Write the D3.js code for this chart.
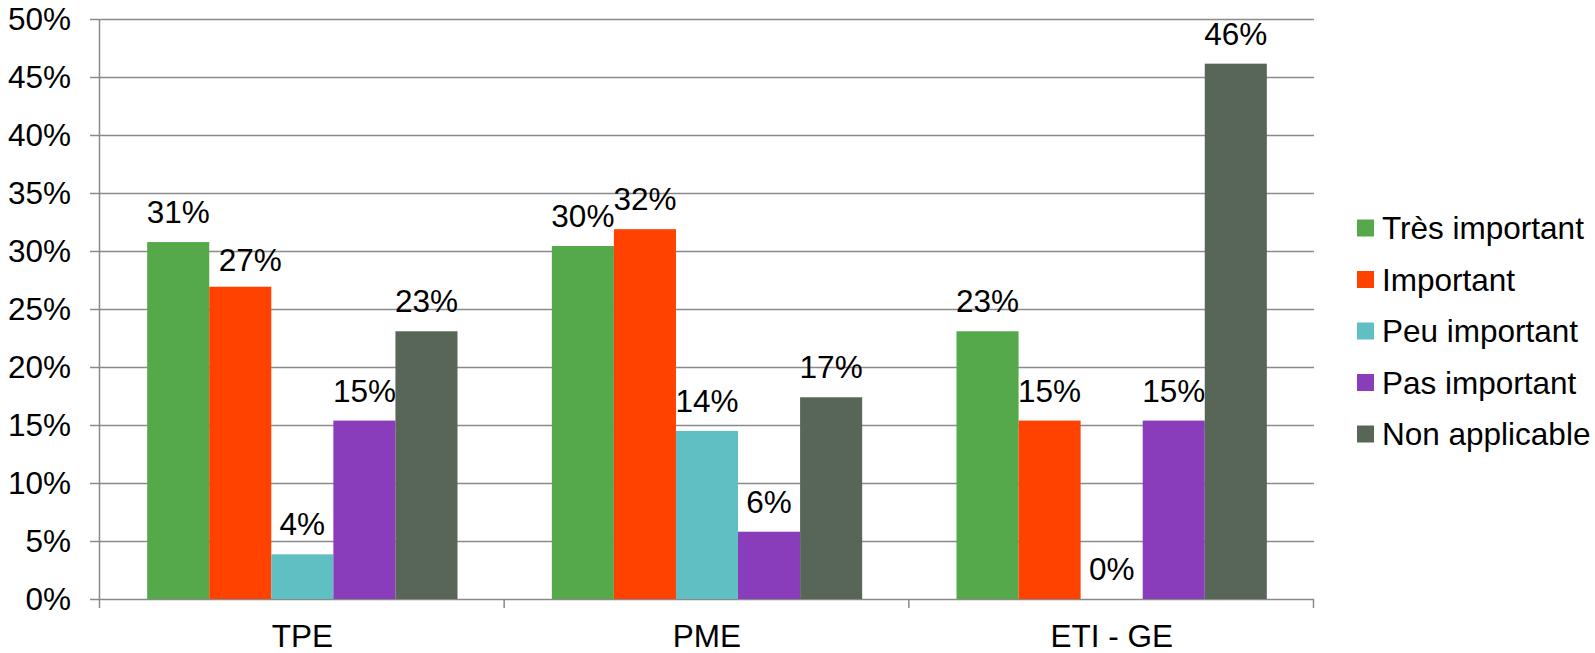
<!DOCTYPE html>
<html>
<head>
<meta charset="utf-8">
<script src="https://cdn.jsdelivr.net/npm/d3@7"></script>
<style>
  body { margin: 0; background: #fff; }
  text { font-family: "Liberation Sans", Arial, sans-serif; fill: #000; }
</style>
</head>
<body>
<svg width="1595" height="653"></svg>
<script>
// data, shares of respondents per company size
var categories = ["TPE", "PME", "ETI - GE"];
var keys = ["Très important", "Important", "Peu important", "Pas important", "Non applicable"];
var tresImportant = [0.3077, 0.3043, 0.2308];
var important     = [0.2692, 0.3188, 0.1538];
var peuImportant  = [0.0385, 0.1449, 0.0];
var pasImportant  = [0.1538, 0.0580, 0.1538];
var nonApplicable = [0.2308, 0.1739, 0.4615];
var yTicks = [0, 0.05, 0.10, 0.15, 0.20, 0.25, 0.30, 0.35, 0.40, 0.45, 0.50];

var colors = ["#55a94a", "#ff4200", "#5fbfc3", "#8a3dba", "#586657"];
var series = [tresImportant, important, peuImportant, pasImportant, nonApplicable];

var svg = d3.select("svg"),
    margin = {top: 19, right: 281, bottom: 54, left: 100},
    width = +svg.attr("width") - margin.left - margin.right,
    height = +svg.attr("height") - margin.top - margin.bottom,
    g = svg.append("g").attr("transform", "translate(" + margin.left + "," + margin.top + ")");

var fontSize = 31.5;

var x0 = d3.scaleBand().domain(categories).range([0, width]).padding(0);
var x1 = d3.scaleBand().domain(keys).range([0, x0.bandwidth()]).paddingInner(0).paddingOuter(0.76);
var y = d3.scaleLinear().domain([0, 0.5]).range([height, 0]);
var z = d3.scaleOrdinal().domain(keys).range(colors);
var fmt = d3.format(".0%");

// gridlines
g.append("g")
  .selectAll("line")
  .data(yTicks)
  .enter().append("line")
    .attr("x1", -10)
    .attr("x2", width)
    .attr("y1", function(d) { return Math.round(y(d)) + 0.5; })
    .attr("y2", function(d) { return Math.round(y(d)) + 0.5; })
    .attr("stroke", "#8a8a8a")
    .attr("stroke-width", 1.5);

// y labels
g.append("g")
  .selectAll("text")
  .data(yTicks)
  .enter().append("text")
    .attr("x", -29)
    .attr("y", function(d) { return y(d); })
    .attr("dy", "0.36em")
    .attr("text-anchor", "end")
    .style("font-size", fontSize + "px")
    .text(fmt);

// y axis line
g.append("line")
  .attr("x1", -0.5).attr("x2", -0.5)
  .attr("y1", 0).attr("y2", height + 9)
  .attr("stroke", "#8a8a8a")
  .attr("stroke-width", 1.5);

// x axis separator ticks
var bounds = categories.map(function(c) { return x0(c) + x0.bandwidth(); });
g.append("g")
  .selectAll("line")
  .data(bounds)
  .enter().append("line")
    .attr("x1", function(d) { return d - 0.5; })
    .attr("x2", function(d) { return d - 0.5; })
    .attr("y1", height)
    .attr("y2", height + 9)
    .attr("stroke", "#8a8a8a")
    .attr("stroke-width", 1.5);

// x labels
g.append("g")
  .selectAll("text")
  .data(categories)
  .enter().append("text")
    .attr("x", function(d) { return x0(d) + x0.bandwidth() / 2; })
    .attr("y", height + 48)
    .attr("text-anchor", "middle")
    .style("font-size", fontSize + "px")
    .text(function(d) { return d; });

// bars
var groups = g.append("g")
  .selectAll("g")
  .data(categories)
  .enter().append("g")
    .attr("transform", function(d) { return "translate(" + x0(d) + ",0)"; });

var cells = groups.selectAll("g")
  .data(function(c, ci) { return keys.map(function(k, ki) { return {cat: c, key: k, value: series[ki][ci]}; }); })
  .enter().append("g");

cells.append("rect")
  .attr("x", function(d) { return x1(d.key); })
  .attr("y", function(d) { return y(d.value); })
  .attr("width", x1.bandwidth())
  .attr("height", function(d) { return height - y(d.value); })
  .attr("fill", function(d) { return z(d.key); });

// value labels; the TPE "Important" label sits a little to the right as in the original
cells.append("text")
  .attr("x", function(d) {
    var nudge = (d.cat === "TPE" && d.key === "Important") ? 10 : 0;
    return x1(d.key) + x1.bandwidth() / 2 + nudge;
  })
  .attr("y", function(d) {
    var nudge = (d.cat === "TPE" && d.key === "Important") ? 3 : 0;
    return y(d.value) - 19 + nudge;
  })
  .attr("text-anchor", "middle")
  .style("font-size", fontSize + "px")
  .text(function(d) { return fmt(d.value); });

// legend
var legend = svg.append("g")
  .selectAll("g")
  .data(keys)
  .enter().append("g")
    .attr("transform", function(d, i) { return "translate(1357," + (228 + i * 51.5) + ")"; });

legend.append("rect")
  .attr("x", 0)
  .attr("y", -8.5)
  .attr("width", 17)
  .attr("height", 17)
  .attr("fill", z);

legend.append("text")
  .attr("x", 25)
  .attr("y", 0)
  .attr("dy", "0.36em")
  .style("font-size", fontSize + "px")
  .text(function(d) { return d; });
</script>
</body>
</html>
